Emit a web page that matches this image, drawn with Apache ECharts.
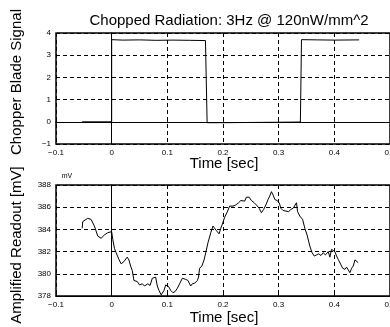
<!DOCTYPE html>
<html><head><meta charset="utf-8">
<script src="https://cdn.jsdelivr.net/npm/echarts@6/dist/echarts.min.js"></script>
<style>html,body{margin:0;padding:0;background:#fff}#c{width:390px;height:327px}</style>
</head><body><div id="c"></div>
<script>
var titleText = "Chopped Radiation: 3Hz @ 120nW/mm^2";
var yLabelTop = "Chopper Blade Signal";
var yLabelBottom = "Amplified Readout [mV]";
var xLabel = "Time [sec]";
var unitLabel = "mV";

var chopT = [-0.053, 0, 0, 0.02, 0.05, 0.08, 0.11, 0.14, 0.1685, 0.1715, 0.2, 0.25, 0.3, 0.339, 0.341, 0.37, 0.40, 0.4445];
var chopV = [0.0, 0.0, 3.70, 3.68, 3.69, 3.67, 3.68, 3.67, 3.66, -0.04, -0.04, -0.03, -0.02, -0.01, 3.70, 3.69, 3.68, 3.69];

var readT = [-0.053,-0.052,-0.043,-0.037,-0.031,-0.028,-0.025,-0.019,-0.013,-0.007,0.000,0.002,0.005,0.008,0.013,0.017,0.022,0.025,0.028,0.031,0.034,0.037,0.040,0.046,0.050,0.055,0.059,0.065,0.069,0.073,0.076,0.079,0.082,0.085,0.089,0.094,0.097,0.100,0.103,0.106,0.110,0.114,0.118,0.122,0.127,0.133,0.137,0.142,0.145,0.149,0.154,0.156,0.158,0.162,0.166,0.169,0.173,0.178,0.182,0.185,0.188,0.193,0.196,0.199,0.203,0.207,0.212,0.218,0.223,0.228,0.232,0.235,0.239,0.242,0.247,0.251,0.256,0.260,0.265,0.269,0.273,0.277,0.281,0.284,0.287,0.290,0.293,0.297,0.301,0.304,0.308,0.313,0.318,0.322,0.326,0.329,0.332,0.334,0.338,0.343,0.347,0.351,0.356,0.360,0.364,0.368,0.372,0.376,0.380,0.384,0.389,0.392,0.395,0.398,0.401,0.404,0.407,0.412,0.415,0.419,0.422,0.425,0.428,0.431,0.434,0.437,0.440,0.443];
var readV = [384.1,384.7,385.0,384.9,384.3,384.3,383.4,383.2,383.5,383.7,383.8,383.1,382.3,381.9,381.3,380.9,381.1,381.25,381.5,381.25,380.7,380.3,379.4,379.3,379.0,379.1,378.9,379.1,378.95,379.6,379.45,379.7,378.9,378.5,378.1,378.5,379.0,379.1,378.8,378.5,378.3,378.4,378.7,379.1,379.6,379.5,379.4,378.9,379.1,379.15,379.4,379.7,380.5,380.7,381.25,381.9,382.8,383.7,384.3,384.35,383.9,383.6,384.1,384.5,385.1,385.5,386.1,386.1,386.2,386.4,386.6,386.7,386.55,386.9,386.9,386.6,386.4,386.2,385.9,385.5,385.8,386.2,386.7,387.0,387.4,387.1,386.7,386.6,386.4,385.9,385.7,385.65,385.6,385.8,385.9,385.8,386.4,385.6,385.2,384.9,384.1,383.5,382.5,381.9,381.6,381.7,381.8,381.65,381.9,381.7,382.0,381.5,382.2,382.3,382.0,381.6,381.3,380.8,380.5,380.4,380.6,380.35,380.1,380.5,380.7,381.25,381.1,381.0];

function pairs(a,b){var r=[];for(var i=0;i<a.length;i++)r.push([a[i],b[i]]);return r;}
function fmt(v){var s=String(Math.round(v*100)/100);return s.replace('-','\u2212');}

var FONT = "Liberation Sans";
var chart = echarts.init(document.getElementById('c'), null, {renderer:'canvas'});
function xAx(gi){
  return {gridIndex:gi,type:'value',min:-0.1,max:0.5,interval:0.1,
    axisLine:{show:true,lineStyle:{color:'#000',width:1}},
    axisTick:{show:true,inside:true,length:3,lineStyle:{color:'#000'}},
    axisLabel:{fontFamily:FONT,fontSize:8,color:'#000',margin:5,formatter:fmt,showMaxLabel:true,showMinLabel:true,hideOverlap:false},
    splitLine:{show:true,lineStyle:{color:'#000',type:[4,3],width:1}}};
}
function yAx(gi,min,max,iv){
  return {gridIndex:gi,type:'value',min:min,max:max,interval:iv,
    axisLine:{show:true,lineStyle:{color:'#000',width:1}},
    axisTick:{show:true,inside:true,length:3,lineStyle:{color:'#000'}},
    axisLabel:{fontFamily:FONT,fontSize:8,color:'#000',margin:5,formatter:fmt},
    splitLine:{show:true,lineStyle:{color:'#000',type:[4,3],width:1}}};
}
chart.setOption({
  animation:false,
  backgroundColor:'#fff',
  title:{text:titleText,left:224,textAlign:'center',top:8,textStyle:{fontFamily:FONT,fontSize:15,fontWeight:'normal',color:'#000'}},
  grid:[
    {left:56,top:33,width:334,height:111,show:true,borderColor:'#000',borderWidth:1.5,backgroundColor:'transparent',containLabel:false,outerBoundsMode:'none'},
    {left:56,top:185,width:334,height:111,show:true,borderColor:'#000',borderWidth:1.5,backgroundColor:'transparent',containLabel:false,outerBoundsMode:'none'}
  ],
  xAxis:[xAx(0),xAx(1)],
  yAxis:[yAx(0,-1,4,1),yAx(1,378,388,2)],
  series:[
    {type:'line',xAxisIndex:0,yAxisIndex:0,data:pairs(chopT,chopV),showSymbol:false,lineStyle:{color:'#000',width:1},silent:true},
    {type:'line',xAxisIndex:1,yAxisIndex:1,data:pairs(readT,readV),showSymbol:false,lineStyle:{color:'#000',width:1},silent:true}
  ],
  graphic:[
    {type:'text',x:17,y:82,rotation:Math.PI/2,style:{text:yLabelTop,fontFamily:FONT,fontSize:15,fill:'#000',textAlign:'center',textVerticalAlign:'middle'}},
    {type:'text',x:17,y:245,rotation:Math.PI/2,style:{text:yLabelBottom,fontFamily:FONT,fontSize:15,fill:'#000',textAlign:'center',textVerticalAlign:'middle'}},
    {type:'text',x:224,y:164,style:{text:xLabel,fontFamily:FONT,fontSize:15,fill:'#000',textAlign:'center',textVerticalAlign:'middle'}},
    {type:'text',x:224,y:318,style:{text:xLabel,fontFamily:FONT,fontSize:15,fill:'#000',textAlign:'center',textVerticalAlign:'middle'}},
    {type:'text',x:67,y:176,style:{text:unitLabel,fontFamily:FONT,fontSize:7,fill:'#000',textAlign:'center',textVerticalAlign:'middle'}}
  ]
});
</script></body></html>
